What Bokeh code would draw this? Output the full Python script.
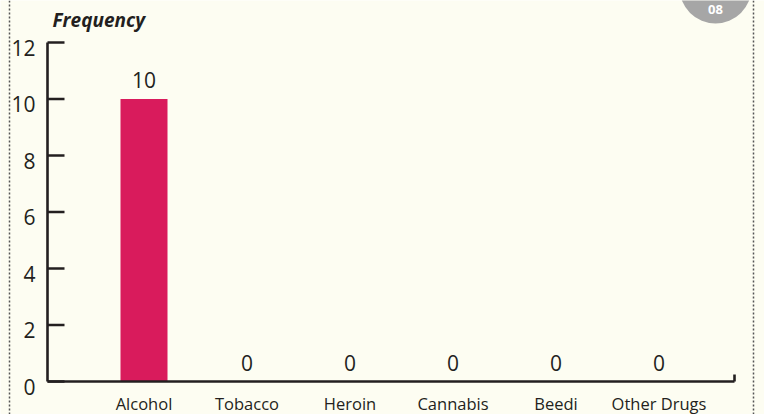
from bokeh.plotting import figure
from bokeh.models import Range1d, Span, ColumnDataSource
from bokeh.core.properties import value
from bokeh.embed import file_html
from bokeh.resources import INLINE

# ---- data ----
categories = ["Alcohol", "Tobacco", "Heroin", "Cannabis", "Beedi", "Other Drugs"]
frequency = [10, 0, 0, 0, 0, 0]
y_ticks = [0, 2, 4, 6, 8, 10, 12]
y_title = "Frequency"
badge_text = "08"

# ---- layout constants (pixels) ----
W, H = 764, 414
X0_PX = 143.5          # pixel centre of first category
STEP_PX = 103.0        # pixels between categories
Y0_PX = 381.0          # pixel of y=0
PX_PER_UNIT = 28.25    # pixels per y unit

def xd(px):
    return (px - X0_PX) / STEP_PX

def yd(px):
    return (Y0_PX - px) / PX_PER_UNIT

INK = "#231f20"
FONT = "Open Sans"

p = figure(width=W, height=H, output_backend="svg", toolbar_location=None,
           x_range=Range1d(xd(0), xd(W)), y_range=Range1d(yd(H), yd(0)),
           x_axis_type=None, y_axis_type=None, min_border=0)
p.background_fill_color = "#fdfdf2"
p.border_fill_color = "#fdfdf2"
p.outline_line_color = None
p.grid.visible = False

idx = list(range(len(categories)))

# bars
src = ColumnDataSource(dict(x=idx, top=frequency, cat=categories,
                            lbl=[str(v) for v in frequency]))
p.vbar(x="x", top="top", bottom=0, width=47 / STEP_PX, source=src,
       fill_color="#d91b5c", line_color=None)

# axes lines
AX_X = xd(47)
AX_END = xd(734)
p.segment(x0=[AX_X], y0=[0], x1=[AX_X], y1=[max(y_ticks)], line_color=INK, line_width=2.6)
p.segment(x0=[AX_X], y0=[0], x1=[AX_END], y1=[0], line_color=INK, line_width=2.6)
p.segment(x0=[AX_END], y0=[0], x1=[AX_END], y1=[7 / PX_PER_UNIT], line_color=INK, line_width=2.6)

# y ticks (inward)
p.segment(x0=[AX_X] * len(y_ticks), y0=y_ticks, x1=[xd(64)] * len(y_ticks), y1=y_ticks,
          line_color=INK, line_width=2.6)
p.text(x=[xd(35)] * len(y_ticks), y=y_ticks, text=[str(t) for t in y_ticks],
       text_align="right", text_baseline="middle", y_offset=5,
       text_font=value(FONT), text_font_size="21px", text_color=INK)

# category labels
p.text(x="x", y=0, text="cat", source=src, text_align="center", text_baseline="middle",
       y_offset=22, text_font=value(FONT), text_font_size="16.5px", text_color=INK)

# value labels
p.text(x="x", y="top", text="lbl", source=src, text_align="center",
       text_baseline="middle", y_offset=-19,
       text_font=value(FONT), text_font_size="21px", text_color=INK)

# y title
p.text(x=[xd(52)], y=[yd(19.5)], text=[y_title], text_align="left", text_baseline="middle",
       text_font=value(FONT), text_font_size="19px", text_font_style="bold italic",
       text_color=INK)

# dotted frame lines
for px in (9, 753):
    p.add_layout(Span(location=xd(px), dimension="height", line_color="#555555",
                      line_width=1.5, line_dash="2 2"))

# badge circle
p.scatter(x=[xd(715)], y=[yd(-13)], size=72, marker="circle",
          fill_color="#a6a6a6", line_color=None)
p.text(x=[xd(715)], y=[yd(9)], text=[badge_text], text_align="center",
       text_baseline="middle", text_font=value(FONT), text_font_size="13px",
       text_font_style="bold", text_color="white")

open("out.html", "w").write(file_html(p, INLINE))
